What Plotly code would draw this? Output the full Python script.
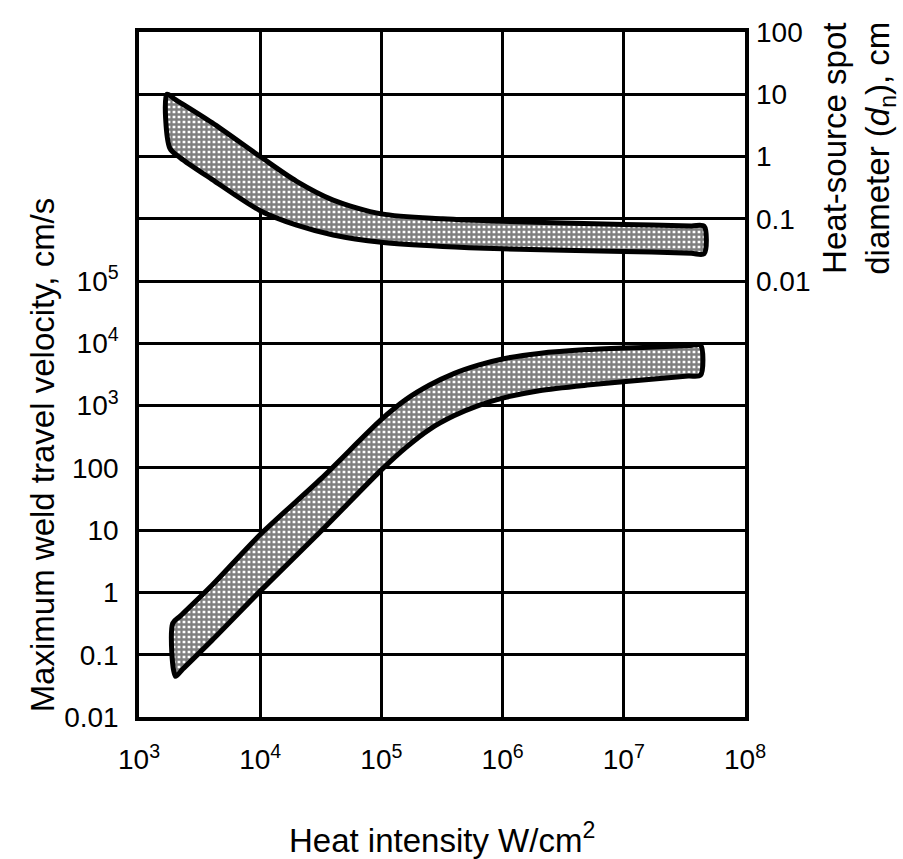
import plotly.graph_objects as go

# ---- data ----
# Upper band: heat-source spot diameter (right axis, cm)
spot_top_x = [1.7e3, 2.0e3, 4.0e3, 1.0e4, 2.0e4, 4.0e4, 1.0e5, 3.2e5, 1.0e6, 1.0e7, 3.6e7, 4.6e7]
spot_top_y = [10, 8.2, 3.5, 1.0, 0.4, 0.2, 0.12, 0.1, 0.091, 0.081, 0.077, 0.076]
spot_bot_x = [1.8e3, 2.2e3, 4.0e3, 1.0e4, 2.0e4, 4.0e4, 1.0e5, 3.2e5, 1.0e6, 1.0e7, 3.6e7, 4.6e7]
spot_bot_y = [1.35, 0.95, 0.43, 0.135, 0.079, 0.055, 0.042, 0.036, 0.033, 0.030, 0.028, 0.0275]

# Lower band: maximum weld travel velocity (left axis, cm/s)
vel_top_x = [1.9e3, 2.2e3, 4.0e3, 1.0e4, 3.2e4, 1.0e5, 1.6e5, 2.5e5, 4.0e5, 6.3e5, 1.0e6, 2.0e6, 5.0e6, 1.6e7, 3.4e7, 4.3e7]
vel_top_y = [0.32, 0.42, 1.3, 8.5, 68, 600, 1260, 2140, 3300, 4470, 5620, 6900, 7940, 8700, 9200, 9330]
vel_bot_x = [2.0e3, 2.3e3, 4.0e3, 1.0e4, 3.2e4, 1.0e5, 1.6e5, 2.5e5, 4.0e5, 6.3e5, 1.0e6, 2.0e6, 5.0e6, 1.6e7, 3.4e7, 4.3e7]
vel_bot_y = [0.045, 0.059, 0.17, 1.05, 9.8, 93, 214, 417, 692, 1000, 1320, 1740, 2140, 2630, 2980, 3090]

x_ticks = [1e3, 1e4, 1e5, 1e6, 1e7, 1e8]
x_ticktext = ["10<sup>3</sup>", "10<sup>4</sup>", "10<sup>5</sup>", "10<sup>6</sup>",
              "10<sup>7</sup>", "10<sup>8</sup>"]
left_ticks = [1e-2, 1e-1, 1, 10, 100, 1e3, 1e4, 1e5]
left_ticktext = ["0.01", "0.1", "1", "10", "100", "10<sup>3</sup>", "10<sup>4</sup>", "10<sup>5</sup>"]
right_ticks = [0.01, 0.1, 1, 10, 100]
right_ticktext = ["0.01", "0.1", "1", "10", "100"]

FONT = "Liberation Sans, Arial, sans-serif"

def band(xt, yt, xb, yb):
    xs = list(xt) + list(reversed(xb)) + [xt[0]]
    ys = list(yt) + list(reversed(yb)) + [yt[0]]
    return xs, ys

pattern = dict(shape="+", fgcolor="black", bgcolor="white", size=5, solidity=0.7)

fig = go.Figure()
sx, sy = band(spot_top_x, spot_top_y, spot_bot_x, spot_bot_y)
fig.add_trace(go.Scatter(x=sx, y=sy, yaxis="y2", mode="lines", fill="toself",
                         fillpattern=pattern, fillcolor="white",
                         line=dict(color="black", width=5, shape="spline", smoothing=0.8),
                         showlegend=False, hoverinfo="skip"))
vx, vy = band(vel_top_x, vel_top_y, vel_bot_x, vel_bot_y)
fig.add_trace(go.Scatter(x=vx, y=vy, mode="lines", fill="toself",
                         fillpattern=pattern, fillcolor="white",
                         line=dict(color="black", width=5, shape="spline", smoothing=0.8),
                         showlegend=False, hoverinfo="skip"))

fig.update_layout(
    width=903, height=859,
    margin=dict(l=139, r=158, t=32, b=142),
    paper_bgcolor="white", plot_bgcolor="white",
    font=dict(family=FONT, color="black", size=28),
    xaxis=dict(type="log", range=[3, 8], tickvals=x_ticks, ticktext=x_ticktext,
               showgrid=True, gridcolor="black", gridwidth=2.5,
               showline=True, linecolor="black", linewidth=3.5, mirror=True,
               ticks="", ticklabelstandoff=15, tickfont=dict(size=28)),
    yaxis=dict(type="log", range=[-2, 9], tickvals=left_ticks, ticktext=left_ticktext,
               showgrid=True, gridcolor="black", gridwidth=2.5,
               showline=True, linecolor="black", linewidth=3.5, mirror=True,
               ticks="", ticklabelstandoff=11, tickfont=dict(size=28)),
    yaxis2=dict(type="log", range=[-9, 2], overlaying="y", side="right",
                tickvals=right_ticks, ticktext=right_ticktext,
                showgrid=True, gridcolor="black", gridwidth=2.5,
                showline=False, ticks="", ticklabelstandoff=10, tickfont=dict(size=28)),
    annotations=[
        dict(text="Heat intensity W/cm<sup>2</sup>", xref="paper", yref="paper",
             x=0.5, y=-0.177, xanchor="center", yanchor="middle", showarrow=False,
             font=dict(size=33)),
        dict(text="Maximum weld travel velocity, cm/s", xref="paper", yref="paper",
             x=-0.16, y=0.382, xanchor="center", yanchor="middle", showarrow=False,
             textangle=-90, font=dict(size=33)),
        dict(text="Heat-source spot<br>diameter (<i>d</i><sub>n</sub>), cm", xref="paper", yref="paper",
             x=1.187, y=0.83, xanchor="center", yanchor="middle", showarrow=False,
             textangle=-90, font=dict(size=33)),
    ],
)

fig.write_html("out.html")
